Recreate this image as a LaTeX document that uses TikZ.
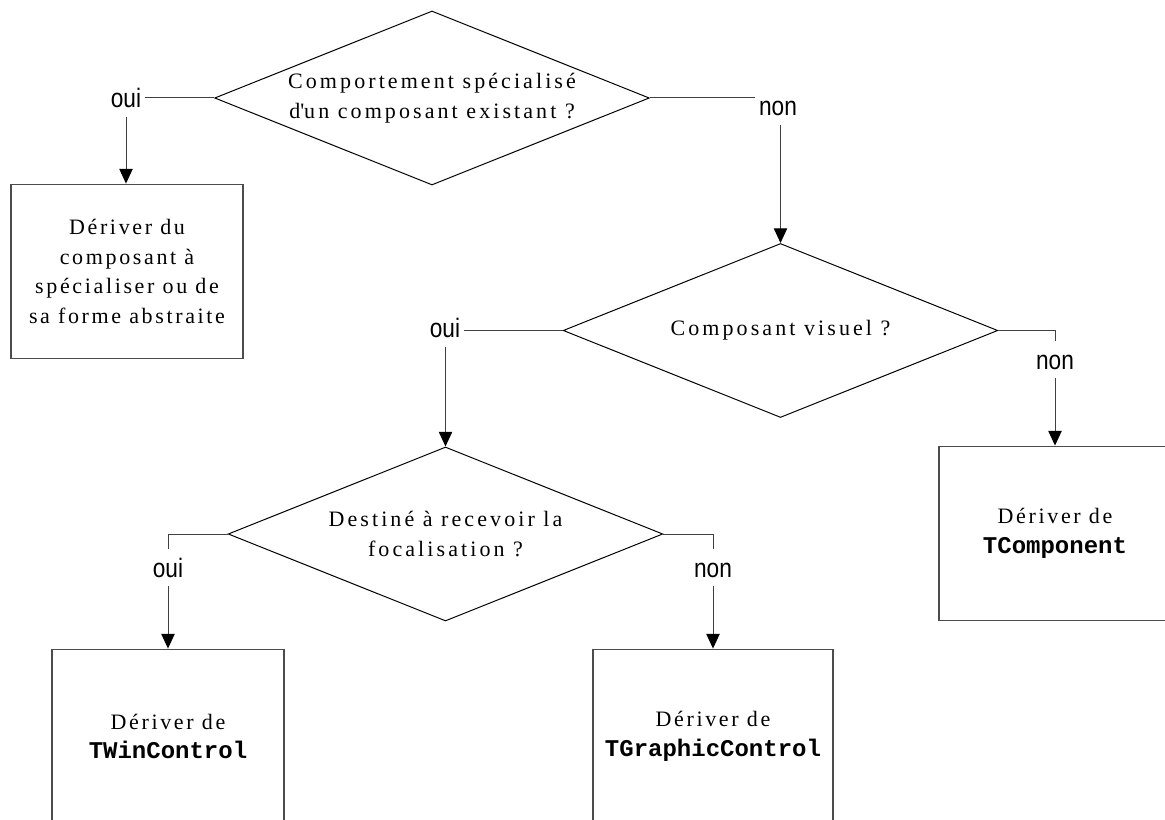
\documentclass[tikz,border=0pt]{standalone}
\usepackage{fontspec}
\setmainfont{Liberation Serif}
\newfontfamily\questionfont[LetterSpace=14]{Liberation Serif}
\newfontfamily\actionfont[LetterSpace=12]{Liberation Serif}
\newfontfamily\codefont{Liberation Mono}
\newfontfamily\labelfont[FakeStretch=0.85]{Liberation Sans}
\newcommand{\classname}[1]{{\codefont\bfseries\fontsize{18}{22.3}\selectfont #1}}
\usetikzlibrary{arrows.meta,shapes.geometric}

\begin{document}
\begin{tikzpicture}[x=0.75pt, y=-0.75pt,
  >={Triangle[length=11pt,width=10pt,color=black]},
  question/.style={diamond, shape aspect=2.5, draw, line width=0.75pt, inner sep=0pt, minimum width=326pt, minimum height=130.5pt, align=center, font=\questionfont\fontsize{16.5}{22.3}\selectfont},
  action/.style={draw=black!70, line width=0.9pt, minimum width=174pt, minimum height=131pt, align=center, font=\actionfont\fontsize{16.5}{22.3}\selectfont},
  answer/.style={font=\labelfont\fontsize{20}{24}\selectfont, inner xsep=2.5pt, inner ysep=2.5pt, text height=18pt, text depth=4pt, anchor=base},
  flow/.style={draw=black!75, line width=0.75pt}]
\useasboundingbox (0,0) rectangle (1165,820);
\clip (0,0) rectangle (1165,820);
% ---- first question
\node[question] (special) at (432,98) {Comportement spécialisé\\d\textquotesingle un composant existant~?};
\node[answer] (yes1) at (126,108) {oui};
\node[answer] (no1) at (778,116) {non};
\node[action] (derive) at (127,271.5) {Dériver du\\composant à\\spécialiser ou de\\sa forme abstraite};
\draw[flow] (special.west) -- (special.west -| yes1.east);
\draw[flow,->] (yes1.south) -- (yes1.south |- derive.north);
% ---- second question
\node[question] (visual) at (780.5,330.5) {Composant visuel~?};
\node[answer] (yes2) at (445,338) {oui};
\node[answer] (no2) at (1055,369) {non};
\node[action] (tcomp) at (1055,533.5) {Dériver de\\\classname{TComponent}};
\draw[flow] (special.east) -- (special.east -| no1.west);
\draw[flow,->] (no1.south -| visual.north) -- (visual.north);
\draw[flow] (visual.west) -- (visual.west -| yes2.east);
\draw[flow] (visual.east) -| (no2.north);
\draw[flow,->] (no2.south) -- (tcomp.north);
% ---- third question
\node[question] (focus) at (445.5,534) {Destiné à recevoir la\\focalisation~?};
\node[answer] (yes3) at (168,577) {oui};
\node[answer] (no3) at (713,577) {non};
\node[action] (twin) at (168,736.5) {Dériver de\\\classname{TWinControl}};
\node[action, minimum width=180pt] (tgraph) at (713,736.5) {Dériver de\\\classname{TGraphicControl}};
\draw[flow,->] (yes2.south -| focus.north) -- (focus.north);
\draw[flow] (focus.west) -| (yes3.north);
\draw[flow,->] (yes3.south) -- (twin.north);
\draw[flow] (focus.east) -| (no3.north);
\draw[flow,->] (no3.south) -- (tgraph.north);
\end{tikzpicture}
\end{document}
